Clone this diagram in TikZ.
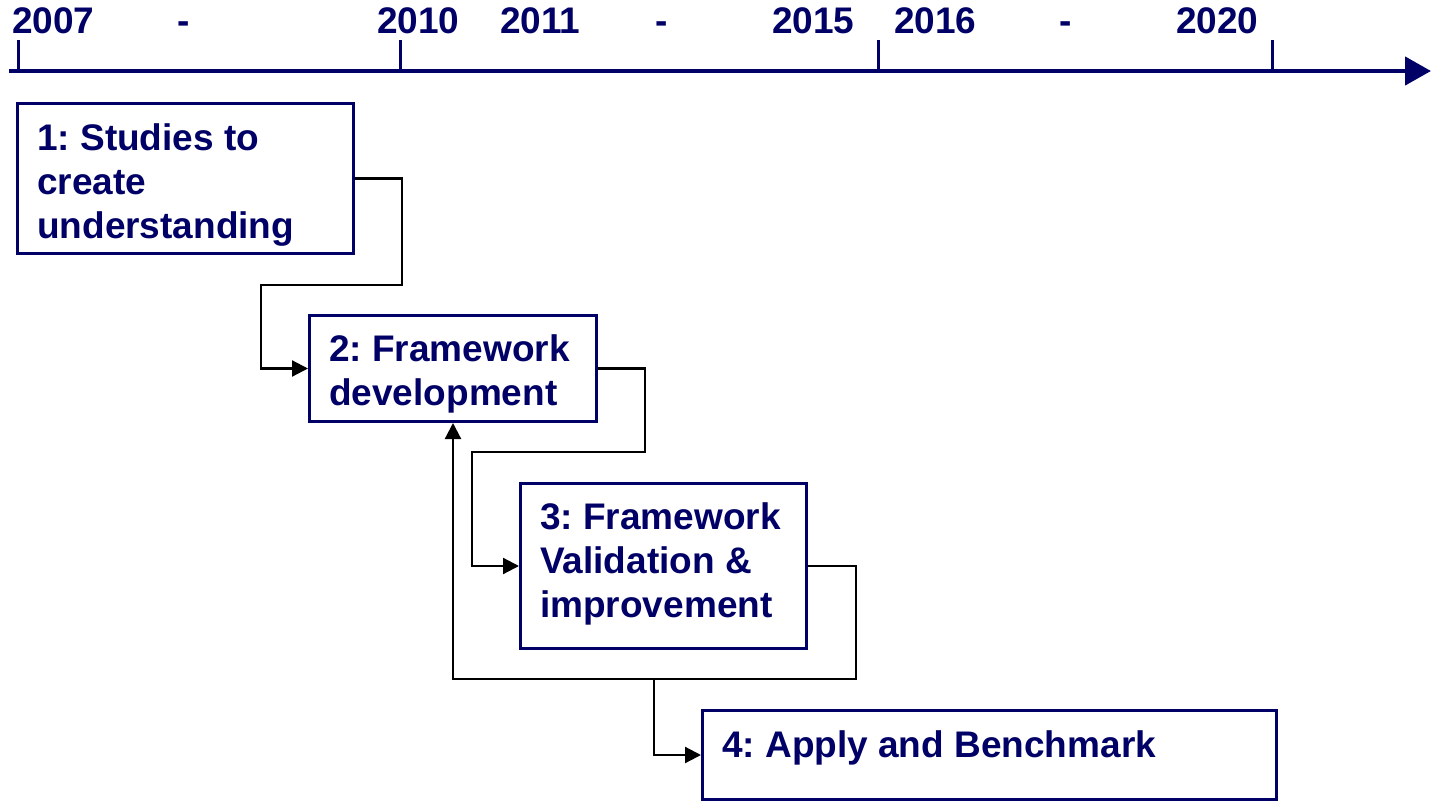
\documentclass[tikz,border=0pt]{standalone}
\usepackage{fontspec}
\setmainfont{Liberation Sans}
\usetikzlibrary{arrows.meta}
\definecolor{navy}{RGB}{0,0,102}
\frenchspacing
\begin{document}
\begin{tikzpicture}[x=1pt,y=-1pt,
  box/.style={draw=navy,line width=3pt,inner sep=0pt,rectangle},
  txt/.style={text=navy,font=\fontsize{37}{44}\selectfont\bfseries,inner sep=0pt,anchor=base west,align=left},
  yr/.style={text=navy,font=\fontsize{37}{44}\selectfont\bfseries,inner sep=0pt,anchor=base west},
  yrdash/.style={text=navy,font=\fontsize{37}{44}\selectfont\bfseries,inner sep=0pt,anchor=base},
  conn/.style={draw=black,line width=2.2pt,-{Triangle[length=16pt,width=16pt]}},
  tick/.style={draw=navy,line width=3pt},
  axis/.style={draw=navy,line width=4.5pt,-{Triangle[length=26pt,width=28pt]}}]
\useasboundingbox (0,0) rectangle (1432,806);
% timeline
\coordinate (a0) at (9,71);
\coordinate (a1) at (1431,71);
\draw[axis] (a0) -- (a1);
\foreach \x/\n in {18/k1,400/k2,878/k3,1272/k4}{
  \coordinate (\n) at (\x,71);
  \draw[tick] (\n) -- ++(0,-31);
}
\node[yr] (y2007) at (12,33) {2007};
\node[yrdash] (d1) at (184,33) {-};
\node[yr] (y2010) at (377,33) {2010};
\node[yr] (y2011) at (500,33) {2011};
\node[yrdash] (d2) at (662,33) {-};
\node[yr] (y2015) at (772,33) {2015};
\node[yr] (y2016) at (894,33) {2016};
\node[yrdash] (d3) at (1066,33) {-};
\node[yr] (y2020) at (1176,33) {2020};
% boxes
\node[box,minimum width=336pt,minimum height=150pt] (b1) at (185.5,178.5) {};
\node[box,minimum width=287pt,minimum height=106pt] (b2) at (453,368.5) {};
\node[box,minimum width=286pt,minimum height=165pt] (b3) at (663.5,566) {};
\node[box,minimum width=574pt,minimum height=89pt] (b4) at (989.5,755) {};
% multi-line nodes: base anchor is the baseline of the last line
\node[txt] (t1) at (37,238) {1: Studies to\\create\\understanding};
\node[txt] (t2) at (329,405) {2: Framework\\development};
\node[txt] (t3) at (540,617) {3: Framework\\Validation \&\\improvement};
\node[txt] (t4) at (722,757) {4: Apply and Benchmark};
% connectors
\coordinate (c1) at (402,178.5);
\coordinate (c2) at (402,285);
\coordinate (c3) at (261,285);
\draw[conn] (b1.east) -- (c1) -- (c2) -- (c3) |- (b2.west);
\coordinate (c4) at (645,368.5);
\coordinate (c5) at (645,452);
\coordinate (c6) at (472,452);
\draw[conn] (b2.east) -- (c4) -- (c5) -- (c6) |- (b3.west);
\coordinate (c7) at (856,566);
\coordinate (c8) at (856,679);
\coordinate (c9) at (453,679);
\coordinate (c10) at (654,679);
\draw[conn] (b3.east) -- (c7) -- (c8) -- (c9) -- (b2.south);
\draw[conn] (c10) |- (b4.west);
\end{tikzpicture}
\end{document}
